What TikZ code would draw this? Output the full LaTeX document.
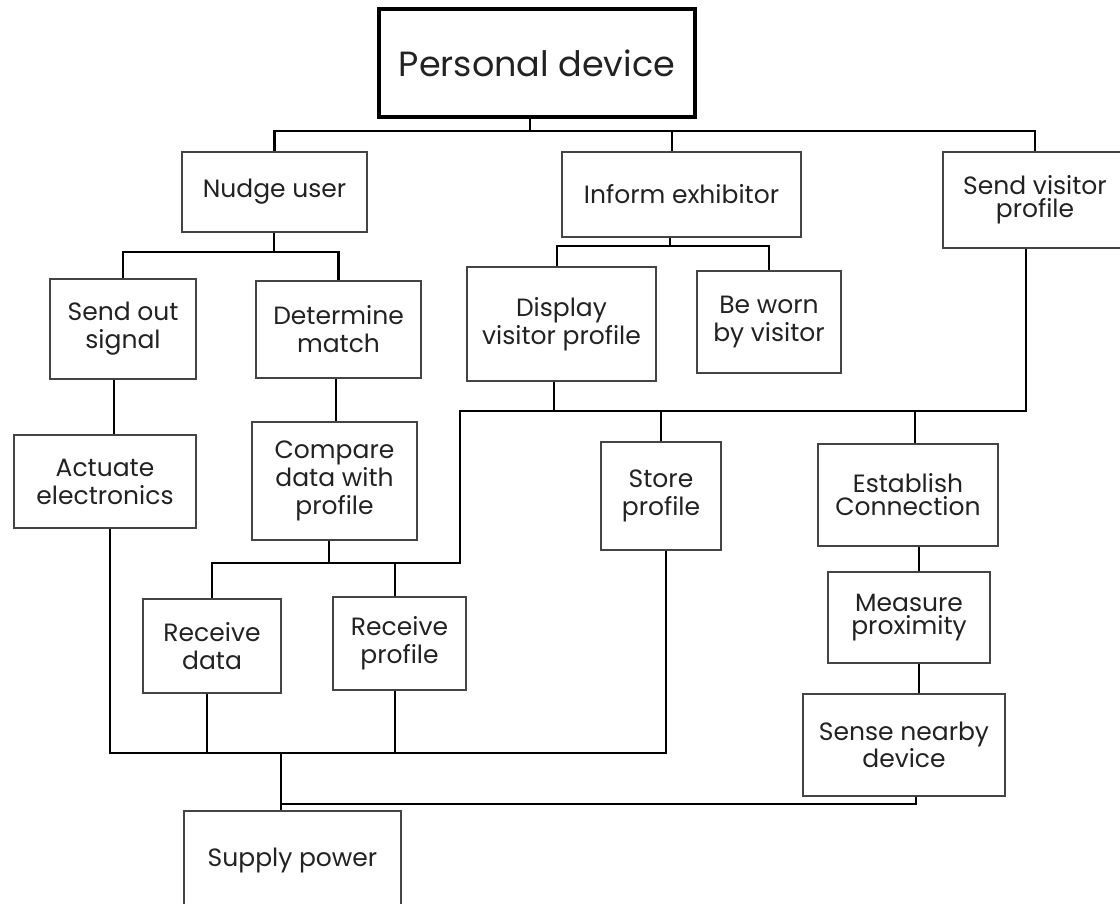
\documentclass[tikz,border=0pt]{standalone}
\usepackage{fontspec}
\setmainfont{Poppins}
\usetikzlibrary{positioning}
\usetikzlibrary{calc}

\definecolor{boxline}{HTML}{444444}
\definecolor{tasktext}{HTML}{222222}

\tikzset{
  task/.style={draw=boxline, line width=1.4pt, align=center, inner sep=0pt,
    text=tasktext, font=\fontsize{25}{28}\selectfont},
  tight/.style={font=\fontsize{25}{23}\selectfont},
  loose/.style={},
  link/.style={draw=black, line width=2.9pt}
}

\begin{document}
\begin{tikzpicture}[x=1pt,y=-1pt]
\useasboundingbox (0,0) rectangle (1120,903);

\node[task, draw=black, line width=3.6pt, minimum width=316, minimum height=108,
  font=\fontsize{35}{40}\selectfont] (pd) at (537,63) {Personal device};

\foreach \name/\x/\y/\w/\h/\sp/\txt in {
  nudge/274.5/192/185/80/loose/{Nudge user},
  inform/681.5/194.5/239/85/loose/{Inform exhibitor},
  svp/1035/200/184/96/tight/{Send visitor\\profile},
  sos/123/329/146/100/loose/{Send out\\signal},
  dm/338.5/329.5/165/97/loose/{Determine\\match},
  dvp/561.5/324/189/114/loose/{Display\\visitor profile},
  bw/769/322/144/102/loose/{Be worn\\by visitor},
  ae/105/481.5/182/93/loose/{Actuate\\electronics},
  cmp/334.5/481/165/118/loose/{Compare\\data with\\profile},
  store/661/496/120/108/loose/{Store\\profile},
  est/908/495/180/102/tight/{Establish\\Connection},
  rd/212/646/138/94/loose/{Receive\\data},
  rp/399.5/643.5/133/93/loose/{Receive\\profile},
  meas/909/617.5/162/91/tight/{Measure\\proximity},
  sense/904/745/202/102/tight/{Sense nearby\\device},
  supply/292.5/860/217/98/loose/{Supply power}}
  \node[task, \sp, minimum width=\w, minimum height=\h] (\name) at (\x,\y) {\txt};

% bus points and columns
\coordinate (top) at (530,131);
\coordinate (ie) at (672,131);
\coordinate (nu) at (274,252);
\coordinate (inf) at (670,246);
\coordinate (dv) at (557,0);
\coordinate (mid) at (460,411);
\coordinate (low) at (460,563);
\coordinate (bot) at (281,753);
\coordinate (pw) at (281,804);
\coordinate (c1) at (114,0);
\coordinate (c2) at (336,0);
\coordinate (cs) at (1026,0);
\coordinate (dv2) at (554,0);
\coordinate (ce) at (915,0);
\coordinate (cc) at (329,0);
\coordinate (cr) at (395,0);
\coordinate (cm) at (919,0);
\coordinate (ca) at (110,0);
\coordinate (cst) at (666,0);
\coordinate (crd) at (207,0);
\coordinate (csn) at (916,0);

% first level
\draw[link] (pd.south -| top) -- (top);
\draw[link] (nudge.north) |- (top) -| (svp.north);
\draw[link] (ie) -- (ie |- inform.north);

% nudge user
\draw[link] (nudge.south -| nu) -- (nu);
\draw[link] (sos.north) |- (nu) -| (dm.north);
\draw[link] (sos.south -| c1) -- (ae.north -| c1);
\draw[link] (dm.south -| c2) -- (cmp.north -| c2);

% inform exhibitor
\draw[link] (inform.south -| inf) -- (inf);
\draw[link] (dvp.north -| dv) |- (inf) -| (bw.north);

% visitor profile
\draw[link] (svp.south -| cs) |- (mid) -- (low) -| (rd.north);
\draw[link] (dvp.south -| dv2) -- (dv2 |- mid);
\draw[link] (store.north) -- (store.north |- mid);
\draw[link] (est.north -| ce) -- (ce |- mid);
\draw[link] (cmp.south -| cc) -- (cc |- low);
\draw[link] (rp.north -| cr) -- (cr |- low);

\draw[link] (est.south -| cm) -- (meas.north -| cm);
\draw[link] (meas.south -| cm) -- (sense.north -| cm);

% power
\draw[link] (ae.south -| ca) |- (bot) -| (store.south -| cst);
\draw[link] (rd.south -| crd) -- (crd |- bot);
\draw[link] (rp.south -| cr) -- (cr |- bot);
\draw[link] (bot) -- (supply.north -| bot);
\draw[link] (sense.south -| csn) |- (pw);
\end{tikzpicture}
\end{document}
